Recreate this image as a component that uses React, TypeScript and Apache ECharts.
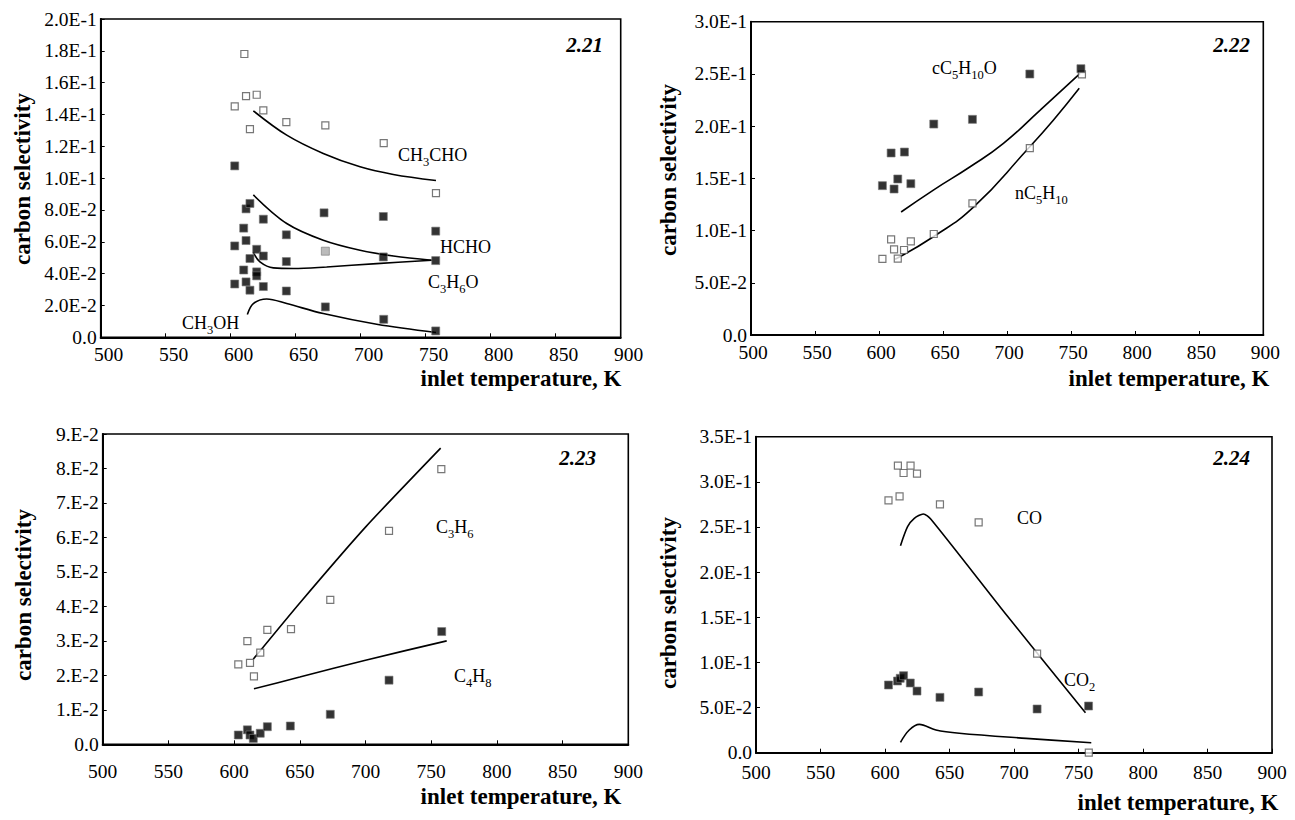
import React, { useEffect, useRef } from "react";
import * as echarts from "echarts";

// ---------- Fig 2.21 ----------
const p1CH3CHOPts = [[603.1, 0.1451], [610.5, 0.178], [611.8, 0.1516], [614.8, 0.1308], [620, 0.1524], [625.1, 0.1426], [642.8, 0.1352], [672.8, 0.1331], [717.7, 0.122], [757.9, 0.0906]];
const p1HCHOPts = [[603.1, 0.1077], [610, 0.0686], [611.8, 0.0807], [614.8, 0.0841], [620, 0.0553], [625.1, 0.0742], [642.8, 0.0644], [671.8, 0.0782], [717.4, 0.0759], [757.7, 0.0667]];
const p1C3H6OPts = [[603.1, 0.0574], [610, 0.0423], [611.8, 0.0608], [614.8, 0.0495], [620, 0.0411], [625.1, 0.0511], [642.8, 0.0476], [717.4, 0.0505], [757.7, 0.0482]];
const p1C3H6OGrayPts = [[672.8, 0.0541]];
const p1CH3OHPts = [[603.1, 0.0335], [611.8, 0.0348], [614.8, 0.0296], [620, 0.0386], [625.1, 0.0319], [642.8, 0.0291], [672.8, 0.0191], [717.7, 0.0113], [757.7, 0.004]];
const p1CH3CHOFit = [[617.4, 0.1423], [643.1, 0.127], [671.2, 0.1155], [699.5, 0.1071], [725.1, 0.1023], [757.9, 0.0985]];
const p1HCHOFit = [[617.4, 0.0895], [643.1, 0.0715], [671.2, 0.061], [699.5, 0.0547], [725.1, 0.0511], [754.6, 0.0484]];
const p1C3H6OFit = [[617.4, 0.0533], [622.5, 0.0474], [632.8, 0.0436], [648.2, 0.0432], [673.8, 0.0442], [712.3, 0.0463], [754.6, 0.0484]];
const p1CH3OHFit = [[612.8, 0.0143], [617.4, 0.0212], [627.7, 0.0241], [643.1, 0.0212], [671.2, 0.0149], [712.3, 0.0082], [757.9, 0.003]];

// ---------- Fig 2.22 ----------
const p2cC5H10OPts = [[602.6, 0.143], [609.4, 0.1743], [611.7, 0.1398], [614.6, 0.1494], [619.8, 0.1752], [624.8, 0.1449], [642.7, 0.202], [672.9, 0.2065], [717.7, 0.2499], [757.6, 0.255]];
const p2nC5H10Pts = [[602.6, 0.0728], [609.4, 0.0916], [611.7, 0.082], [614.6, 0.0731], [619.5, 0.0814], [624.8, 0.0897], [642.7, 0.0967], [672.9, 0.1261], [717.7, 0.179], [758.4, 0.2496]];
const p2cC5H10OFit = [[617.2, 0.1178], [642.4, 0.1388], [671.1, 0.1611], [697.1, 0.1835], [725.8, 0.2154], [757, 0.2506]];
const p2nC5H10Fit = [[612.5, 0.0725], [642.4, 0.0941], [673.7, 0.1224], [715.4, 0.1771], [736.2, 0.2059], [756.3, 0.2362]];

// ---------- Fig 2.23 ----------
const p3C3H6Pts = [[603.2, 0.0232], [610.1, 0.0299], [612.1, 0.0236], [615.1, 0.0197], [619.9, 0.0266], [625.3, 0.0332], [643.3, 0.0334], [673.2, 0.0419], [717.9, 0.0619], [757.7, 0.0798]];
const p3C4H8Pts = [[603.2, 0.0027], [610.1, 0.0042], [612.1, 0.0027], [614.6, 0.0017], [619.9, 0.0032], [625.3, 0.0051], [642.8, 0.0053], [673.2, 0.0087], [717.9, 0.0186], [758, 0.0327]];
const p3C3H6Fit = [[614.6, 0.0247], [650, 0.041], [700, 0.063], [757.2, 0.0859]];
const p3C4H8Fit = [[615.1, 0.0161], [650, 0.0195], [700, 0.0244], [761.8, 0.03]];

// ---------- Fig 2.24 ----------
const p4COPts = [[602.7, 0.2795], [610, 0.3179], [611.3, 0.284], [614.4, 0.3098], [619.8, 0.3179], [624.8, 0.309], [642.6, 0.2751], [672.6, 0.2552], [717.9, 0.1097], [758, 0.0]];
const p4CO2Pts = [[602.7, 0.075], [609.7, 0.0794], [611.8, 0.0824], [614.4, 0.0853], [619.6, 0.0772], [624.8, 0.0683], [642.6, 0.0613], [672.6, 0.0672], [717.9, 0.0484], [757.8, 0.0517]];
const p4COFit = [[612, 0.2293], [617.5, 0.2503], [622.7, 0.2596], [629.7, 0.2644], [635.6, 0.2585], [695, 0.151], [755.4, 0.0443]];
const p4CO2Fit = [[612, 0.0115], [618.8, 0.0251], [626.6, 0.0314], [639.5, 0.0251], [657.6, 0.0215], [709.4, 0.0159], [759.9, 0.0111]];

// axis ranges
const xRange = { min: 500, max: 900, interval: 50 };
const yRanges = [
  { min: 0, max: 0.2, interval: 0.02 },
  { min: 0, max: 0.3, interval: 0.05 },
  { min: 0, max: 0.09, interval: 0.01 },
  { min: 0, max: 0.35, interval: 0.05 },
];
const panelNames = ["2.21", "2.22", "2.23", "2.24"];
const xTitle = "inlet temperature, K";
const yTitle = "carbon selectivity";

const SERIF = "'Liberation Serif', 'Times New Roman', serif";

const fmt1 = (v: number) => (Math.abs(v) < 1e-12 ? "0.0" : v.toExponential(1).toUpperCase());
const fmt0 = (v: number) => (Math.abs(v) < 1e-12 ? "0.0" : v.toExponential(0).replace("e", ".E"));

export default function App() {
  const ref = useRef<HTMLDivElement>(null);
  useEffect(() => {
    if (!ref.current) return;
    const chart = echarts.init(ref.current, null, { renderer: "svg" });

    const grids = [
      { left: 100.7, top: 19, width: 520, height: 318.3 },
      { left: 751, top: 21.7, width: 512.3, height: 313.3 },
      { left: 102.7, top: 434, width: 525.6, height: 310.3 },
      { left: 756, top: 436.7, width: 516, height: 316 },
    ].map((g) => ({ ...g, show: true, borderColor: "#000", borderWidth: 1.6, backgroundColor: "transparent" }));

    const xLabelMargins = [7, 7, 17, 10];
    const xLabelShift = [16, 4, 0, 0];
    const xAxes = grids.map((_, i) => ({
      type: "value",
      gridIndex: i,
      ...xRange,
      axisLine: { show: true, lineStyle: { color: "#000", width: 2 } },
      axisTick: { show: true, inside: true, length: 4, lineStyle: { color: "#000", width: 1 } },
      splitLine: { show: false },
      axisLabel: {
        color: "#000",
        fontFamily: SERIF,
        fontSize: 19.5,
        margin: xLabelMargins[i],
        padding: [0, 0, 0, xLabelShift[i]],
      },
    }));
    const yAxes = grids.map((_, i) => ({
      type: "value",
      gridIndex: i,
      ...yRanges[i],
      axisLine: { show: true, lineStyle: { color: "#000", width: 2 } },
      axisTick: { show: true, inside: true, length: 4, lineStyle: { color: "#000", width: 1 } },
      splitLine: { show: false },
      axisLabel: {
        color: "#000",
        fontFamily: SERIF,
        fontSize: 19.5,
        margin: 4,
        padding: [8, 0, 0, 0],
        formatter: i === 2 ? fmt0 : fmt1,
      },
    }));

    const open = (name: string, data: number[][], gi: number) => ({
      name,
      type: "scatter",
      xAxisIndex: gi,
      yAxisIndex: gi,
      data,
      symbol: "rect",
      symbolSize: 7,
      itemStyle: { color: "#fff", borderColor: "#555", borderWidth: 1.2 },
      z: 3,
    });
    const filled = (name: string, data: number[][], gi: number, color = "#000") => ({
      name,
      type: "scatter",
      xAxisIndex: gi,
      yAxisIndex: gi,
      data,
      symbol: "rect",
      symbolSize: 8,
      itemStyle: { color, borderColor: "#777", borderWidth: 0.8 },
      z: 4,
    });
    const fit = (name: string, data: number[][], gi: number, smooth = 0.35) => ({
      name,
      type: "line",
      xAxisIndex: gi,
      yAxisIndex: gi,
      data,
      smooth,
      showSymbol: false,
      symbol: "none",
      lineStyle: { color: "#000", width: 1.6 },
      z: 2,
    });

    const series = [
      open("CH3CHO", p1CH3CHOPts, 0),
      filled("HCHO", p1HCHOPts, 0),
      filled("C3H6O", p1C3H6OPts, 0),
      filled("C3H6O (gray)", p1C3H6OGrayPts, 0, "#aaa"),
      filled("CH3OH", p1CH3OHPts, 0),
      fit("CH3CHO model", p1CH3CHOFit, 0),
      fit("HCHO model", p1HCHOFit, 0),
      fit("C3H6O model", p1C3H6OFit, 0),
      fit("CH3OH model", p1CH3OHFit, 0),
      filled("cC5H10O", p2cC5H10OPts, 1),
      open("nC5H10", p2nC5H10Pts, 1),
      fit("cC5H10O model", p2cC5H10OFit, 1, 0.5),
      fit("nC5H10 model", p2nC5H10Fit, 1, 0.5),
      open("C3H6", p3C3H6Pts, 2),
      filled("C4H8", p3C4H8Pts, 2),
      fit("C3H6 model", p3C3H6Fit, 2, 0.2),
      fit("C4H8 model", p3C4H8Fit, 2, 0.2),
      open("CO", p4COPts, 3),
      filled("CO2", p4CO2Pts, 3),
      fit("CO model", p4COFit, 3, 0.25),
      fit("CO2 model", p4CO2Fit, 3),
    ];

    const rich = {
      n: { fontFamily: SERIF, fontSize: 18, lineHeight: 20, fill: "#000", verticalAlign: "bottom", padding: [0, 0, 4, 0] },
      s: { fontFamily: SERIF, fontSize: 12.5, lineHeight: 12, fill: "#000", verticalAlign: "bottom" },
    };
    const chem = (text: string, x: number, y: number) => ({
      type: "text",
      x,
      y,
      style: { text, rich, fill: "#000", verticalAlign: "middle", align: "left", font: `18px ${SERIF}` },
      z: 10,
    });
    const fig = (text: string, x: number, y: number) => ({
      type: "text",
      x,
      y,
      style: { text, fill: "#000", font: `italic bold 21px ${SERIF}`, align: "right", verticalAlign: "middle" },
      z: 10,
    });
    const xt = (x: number, y: number) => ({
      type: "text",
      x,
      y,
      style: { text: xTitle, fill: "#000", font: `bold 23px ${SERIF}`, align: "center", verticalAlign: "middle" },
    });
    const yt = (x: number, y: number) => ({
      type: "text",
      x,
      y,
      rotation: Math.PI / 2,
      style: { text: yTitle, fill: "#000", font: `bold 23px ${SERIF}`, align: "center", verticalAlign: "middle" },
    });

    const graphic = [
      fig(panelNames[0], 603, 45),
      fig(panelNames[1], 1250, 45),
      fig(panelNames[2], 596, 458),
      fig(panelNames[3], 1250, 458),
      xt(521, 378),
      xt(1169, 378),
      xt(521, 796),
      xt(1178, 802),
      yt(22, 179),
      yt(668, 170),
      yt(23, 595),
      yt(668, 603),
      chem("{n|CH}{s|3}{n|CHO}", 398, 158),
      chem("{n|HCHO}", 440, 250),
      chem("{n|C}{s|3}{n|H}{s|6}{n|O}", 428, 285),
      chem("{n|CH}{s|3}{n|OH}", 182, 326),
      chem("{n|cC}{s|5}{n|H}{s|10}{n|O}", 932, 71),
      chem("{n|nC}{s|5}{n|H}{s|10}", 1015, 196),
      chem("{n|C}{s|3}{n|H}{s|6}", 436, 530),
      chem("{n|C}{s|4}{n|H}{s|8}", 454, 679),
      chem("{n|CO}", 1017, 521),
      chem("{n|CO}{s|2}", 1064, 683),
    ];

    chart.setOption({
      animation: false,
      backgroundColor: "#fff",
      grid: grids,
      xAxis: xAxes,
      yAxis: yAxes,
      series,
      graphic,
    });
    return () => chart.dispose();
  }, []);

  return <div ref={ref} style={{ position: "absolute", left: 0, top: 0, width: 1295, height: 820 }} />;
}
